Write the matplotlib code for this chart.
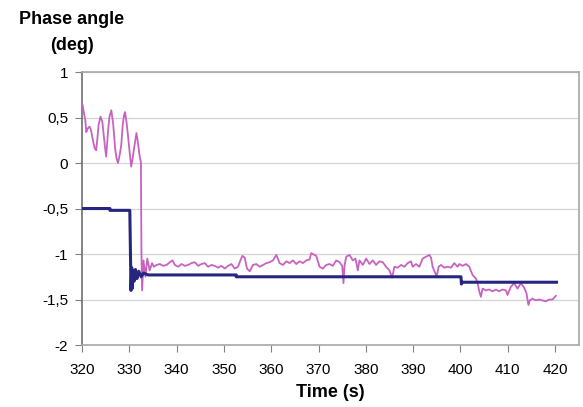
import matplotlib
matplotlib.use("Agg")
import matplotlib.pyplot as plt

# ---- data ----
t_phase = [320.1, 320.4, 320.7, 320.9, 321.2, 321.6, 321.9, 322.3, 322.7, 323.0,
           323.3, 323.5, 323.9, 324.3, 324.8, 325.1, 325.5, 325.8, 326.2, 326.6,
           327.0, 327.3, 327.6, 328.0, 328.3, 328.6, 328.9, 329.1, 329.4, 329.7,
           330.1, 330.4, 330.7, 331.0, 331.5, 331.8, 332.2, 332.45, 332.55, 332.7,
           333.0, 333.4, 333.8, 334.3, 334.8, 335.2, 335.76, 336.46, 337.15, 337.87,
           338.57, 339.13, 339.62, 340.32, 341.03, 341.73, 342.43, 343.14, 343.84, 344.54,
           345.25, 345.95, 346.65, 347.36, 348.06, 348.76, 349.47, 350.17, 350.86, 351.58,
           352.28, 352.97, 353.48, 353.90, 354.39, 354.87, 355.44, 356.14, 356.86, 357.55,
           358.25, 358.97, 359.66, 360.36, 361.08, 361.77, 362.47, 363.19, 363.88, 364.58,
           365.30, 365.99, 366.69, 367.41, 368.10, 368.46, 368.80, 369.51, 370.21, 370.91,
           371.62, 372.32, 373.02, 373.73, 374.43, 375.0, 375.27, 375.49, 375.84, 376.54,
           377.24, 377.81, 378.29, 378.65, 379.35, 380.06, 380.76, 381.46, 382.17, 382.87,
           383.57, 384.28, 384.98, 385.55, 386.03, 386.73, 387.45, 388.14, 388.84, 389.56,
           389.89, 390.60, 391.31, 392.0, 392.72, 393.42, 393.78, 394.11, 394.68, 394.96,
           395.38, 395.89, 396.58, 397.28, 397.99, 398.69, 399.39, 399.75, 400.44, 401.16,
           401.86, 402.55, 403.27, 403.61, 403.97, 404.32, 404.66, 405.38, 406.08, 406.77,
           407.49, 408.19, 408.88, 409.60, 409.94, 410.65, 411.35, 412.05, 412.76, 413.46,
           413.95, 414.37, 414.66, 415.21, 415.93, 416.62, 417.32, 418.04, 418.73, 419.43,
           420.15]
y_phase = [0.64, 0.55, 0.47, 0.34, 0.38, 0.40, 0.36, 0.25, 0.16, 0.14,
           0.30, 0.42, 0.51, 0.45, 0.20, 0.07, 0.35, 0.51, 0.58, 0.42,
           0.16, 0.05, 0.00, 0.10, 0.20, 0.42, 0.53, 0.56, 0.45, 0.31,
           0.10, -0.04, 0.05, 0.16, 0.33, 0.23, 0.07, 0.01, -0.95, -1.40,
           -1.07, -1.25, -1.05, -1.18, -1.10, -1.14, -1.12, -1.11, -1.13, -1.12,
           -1.09, -1.07, -1.12, -1.14, -1.11, -1.13, -1.12, -1.10, -1.09, -1.13,
           -1.11, -1.10, -1.14, -1.12, -1.13, -1.15, -1.13, -1.16, -1.13, -1.11,
           -1.16, -1.14, -1.07, -1.02, -1.04, -1.16, -1.19, -1.12, -1.11, -1.14,
           -1.12, -1.10, -1.09, -1.07, -1.01, -1.10, -1.12, -1.08, -1.10, -1.07,
           -1.11, -1.08, -1.10, -1.07, -1.06, -0.99, -1.00, -1.02, -1.14, -1.16,
           -1.12, -1.11, -1.13, -1.07, -1.09, -1.13, -1.32, -1.13, -1.03, -1.01,
           -1.07, -1.05, -1.18, -1.07, -1.12, -1.05, -1.11, -1.07, -1.12, -1.08,
           -1.09, -1.14, -1.18, -1.26, -1.14, -1.15, -1.12, -1.14, -1.10, -1.08,
           -1.14, -1.11, -1.14, -1.05, -1.03, -1.01, -1.04, -1.14, -1.21, -1.25,
           -1.14, -1.12, -1.15, -1.14, -1.15, -1.10, -1.14, -1.11, -1.13, -1.11,
           -1.14, -1.23, -1.27, -1.32, -1.41, -1.47, -1.38, -1.40, -1.39, -1.41,
           -1.39, -1.41, -1.39, -1.40, -1.45, -1.36, -1.32, -1.38, -1.32, -1.37,
           -1.43, -1.56, -1.51, -1.49, -1.51, -1.50, -1.51, -1.52, -1.50, -1.50,
           -1.46]

t_ref = [320.0, 325.9, 325.9, 330.1, 330.3, 330.35, 330.5, 330.6, 330.8, 331.0,
         331.3, 331.6, 332.0, 332.5, 333.0, 334.0, 352.6, 352.6, 400.1, 400.2,
         400.4, 420.3]
y_ref = [-0.50, -0.50, -0.52, -0.52, -1.21, -1.40, -1.15, -1.38, -1.18, -1.30,
         -1.17, -1.27, -1.19, -1.25, -1.21, -1.23, -1.23, -1.25, -1.25, -1.33,
         -1.31, -1.31]

x_ticks = [320, 330, 340, 350, 360, 370, 380, 390, 400, 410, 420]
y_ticks = [-2, -1.5, -1, -0.5, 0, 0.5, 1]
y_tick_labels = ["-2", "-1,5", "-1", "-0,5", "0", "0,5", "1"]

plt.rcParams['font.family'] = ['Liberation Sans', 'DejaVu Sans']

fig = plt.figure(figsize=(5.83, 4.07), dpi=100)
ax = fig.add_axes([0.1407, 0.1523, 0.852, 0.6707])

ax.plot(t_phase, y_phase, color='#C862C2', lw=1.3, zorder=3)
ax.plot(t_ref, y_ref, color='#262680', lw=2.2, zorder=4)

ax.set_xlim(320, 425)
ax.set_ylim(-2, 1)
ax.set_xticks(x_ticks)
ax.set_yticks(y_ticks)
ax.set_yticklabels(y_tick_labels)
ax.tick_params(axis='both', labelsize=11, direction='out', length=5,
               color='#808080', width=0.8, pad=5)
ax.tick_params(axis='x', pad=8)

for yv in y_ticks:
    ax.axhline(yv, color='#D4D4D4', lw=0.9, zorder=1)

for s in ['top', 'right', 'bottom']:
    ax.spines[s].set_color('#A8A8A8')
    ax.spines[s].set_linewidth(1.2)
ax.spines['left'].set_color('#707070')
ax.spines['left'].set_linewidth(1.2)

ax.set_xlabel('Time (s)', fontsize=13, fontweight='bold', labelpad=5)
fig.text(72 / 583, 1 - 20 / 407, 'Phase angle', fontsize=13, fontweight='bold',
         ha='center', va='center')
fig.text(72 / 583, 1 - 46 / 407, '(deg)', fontsize=13, fontweight='bold',
         ha='center', va='center')

fig.savefig('out.png', dpi=100)
